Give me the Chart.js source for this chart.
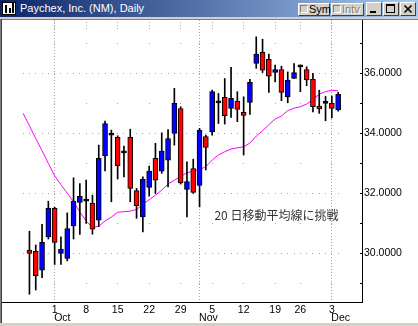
<!DOCTYPE html>
<html>
<head>
<meta charset="utf-8">
<script src="https://cdn.jsdelivr.net/npm/chart.js@4.4.0/dist/chart.umd.min.js"></script>
<style>
  html, body { margin: 0; padding: 0; background: #fff; overflow: hidden; }
  #win { position: relative; width: 418px; height: 326px; background: #fff; font-family: "Liberation Sans", Arial, sans-serif; }
  #bar { position: absolute; left: 0; top: 0; width: 418px; height: 17px; background: linear-gradient(to right, #0a246a, #a6caf0); }
  #barEdge { position: absolute; left: 0; top: 17px; width: 418px; height: 2px; background: #d4d0c8; }
  #clientEdge { position: absolute; left: 0; top: 19px; width: 418px; height: 1px; background: #808080; }
  #leftEdge { position: absolute; left: 0; top: 19px; width: 1px; height: 304px; background: #808080; border-right: 1px solid #404040; }
  #bottomEdge { position: absolute; left: 0; top: 323px; width: 418px; height: 3px; background: #d4d0c8; }
  #icon { position: absolute; left: 2px; top: 2px; width: 14px; height: 13px; background: #fff; border: 1px solid #000; box-sizing: border-box; }
  #icon i { position: absolute; bottom: 1px; width: 2px; background: #000; }
  #title { position: absolute; left: 20px; top: 1px; color: #fff; font-size: 11px; line-height: 15px; white-space: nowrap; }
  .btn { position: absolute; background: #d4d0c8; box-sizing: border-box; border: 1px solid; border-color: #fff #404040 #404040 #fff; font-size: 11px; line-height: 11px; color: #000; white-space: nowrap; }
  .btn .chk { display: inline-block; width: 8px; height: 8px; box-sizing: border-box; border: 1px solid; border-color: #808080 #fff #fff #808080; background: #d4d0c8; margin: 1px 1px 0 1px; vertical-align: top; }
  .btn.off span { color: #808080; text-shadow: 1px 1px 0 #fff; }
  #wrap { position: absolute; left: 0; top: 20px; width: 418px; height: 303px; }
  #wrap canvas { display: block; }
</style>
</head>
<body>
<div id="win">
  <div id="bar"></div>
  <div id="icon"><i style="left:2px;height:8px"></i><i style="left:6px;height:5px"></i><i style="left:9px;height:10px"></i></div>
  <div id="title">Paychex, Inc. (NM), Daily</div>
  <div class="btn" style="left:298px;top:3px;width:32px;height:13px"><b class="chk"></b><span>Sym</span></div>
  <div class="btn off" style="left:331px;top:3px;width:33px;height:13px"><b class="chk"></b><span>Intv</span></div>
  <div class="btn" style="left:366px;top:2px;width:16px;height:14px"><div style="position:absolute;left:3px;top:8px;width:6px;height:2px;background:#000"></div></div>
  <div class="btn" style="left:383px;top:2px;width:16px;height:14px"><div style="position:absolute;left:2px;top:1px;width:9px;height:9px;box-sizing:border-box;border:1px solid #000;border-top-width:2px"></div></div>
  <div class="btn" style="left:400px;top:2px;width:16px;height:14px"><svg width="14" height="12" style="position:absolute;left:0;top:0"><path d="M3.5 2.5 L10.5 9.5 M10.5 2.5 L3.5 9.5" stroke="#000" stroke-width="1.6"/></svg></div>
  <div id="barEdge"></div>
  <div id="clientEdge"></div>
  <div id="wrap"><canvas id="chart" width="418" height="303"></canvas></div>
  <div id="leftEdge"></div>
  <div id="bottomEdge"></div>
</div>
<script>
// trading days shown, Sep 24 - Dec 4 2001 (Thanksgiving closed)
const dates = [
  "2001-09-24", "2001-09-25", "2001-09-26", "2001-09-27", "2001-09-28",
  "2001-10-01", "2001-10-02", "2001-10-03", "2001-10-04", "2001-10-05",
  "2001-10-08", "2001-10-09", "2001-10-10", "2001-10-11", "2001-10-12",
  "2001-10-15", "2001-10-16", "2001-10-17", "2001-10-18", "2001-10-19",
  "2001-10-22", "2001-10-23", "2001-10-24", "2001-10-25", "2001-10-26",
  "2001-10-29", "2001-10-30", "2001-10-31", "2001-11-01", "2001-11-02",
  "2001-11-05", "2001-11-06", "2001-11-07", "2001-11-08", "2001-11-09",
  "2001-11-12", "2001-11-13", "2001-11-14", "2001-11-15", "2001-11-16",
  "2001-11-19", "2001-11-20", "2001-11-21", "2001-11-23",
  "2001-11-26", "2001-11-27", "2001-11-28", "2001-11-29", "2001-11-30",
  "2001-12-03", "2001-12-04"
];

const opens = [
  null, 30.11, 30.07, 29.44, 30.55,
  31.50, 30.00, 29.83, 30.92, 31.70,
  31.74, 31.67, 31.11, 33.25, 33.94,
  33.87, 33.35, 33.87, 32.09, 31.22,
  32.20, 33.17, 32.74, 33.11, 34.00,
  34.83, 32.13, 32.83, 32.27, 33.89,
  34.05, 35.02, 35.20, 34.83, 35.08,
  34.70, 35.03, 36.33, 36.70, 36.47,
  36.03, 36.13, 35.22, 35.83,
  36.22, 36.13, 35.80, 34.91, 35.00,
  35.00, 34.78
];
const highs = [
  null, 30.74, 30.28, 30.97, 31.74,
  31.54, 30.55, 31.35, 32.52, 32.33,
  32.44, 31.94, 33.61, 34.41, 34.11,
  33.92, 33.58, 34.14, 32.17, 32.55,
  32.91, 33.67, 34.02, 34.13, 35.50,
  34.89, 33.05, 33.14, 34.17, 33.94,
  35.44, 35.33, 35.83, 36.20, 35.39,
  35.22, 35.80, 37.22, 37.14, 36.64,
  36.28, 36.24, 36.05, 36.33,
  36.28, 36.22, 36.00, 35.44, 35.24,
  35.24, 35.37
];
const lows = [
  null, 28.64, 28.78, 29.19, 30.48,
  29.63, 29.63, 29.75, 30.48, 30.63,
  31.00, 30.64, 30.89, 32.75, 31.72,
  32.48, 32.55, 31.72, 31.17, 30.72,
  31.91, 32.00, 32.67, 32.22, 33.61,
  32.31, 31.22, 32.00, 31.55, 32.78,
  33.94, 34.33, 34.31, 34.53, 34.39,
  33.28, 34.63, 36.17, 36.03, 35.37,
  35.72, 35.09, 35.02, 35.83,
  35.39, 35.59, 34.72, 34.67, 34.42,
  34.52, 34.74
];
const closes = [
  null, 30.00, 29.25, 30.37, 31.50,
  30.37, 30.14, 30.83, 31.74, 31.90,
  31.74, 30.81, 33.17, 34.33, 33.94,
  32.92, 33.35, 32.17, 31.59, 32.47,
  32.74, 32.44, 33.41, 33.83, 35.00,
  32.35, 32.39, 32.03, 34.11, 33.53,
  35.39, 35.02, 34.59, 35.17, 34.80,
  34.60, 35.70, 36.64, 36.11, 35.91,
  36.13, 35.37, 35.78, 36.03,
  36.22, 35.78, 34.89, 34.82, 35.00,
  34.83, 35.30
];
// 20-day moving average (magenta)
const ma20 = [
  34.67, 34.25, 33.83, 33.42, 33.00,
  32.58, 32.29, 32.01, 31.72, 31.38,
  31.08, 30.86, 30.91, 31.08, 31.21,
  31.37, 31.39, 31.41, 31.46, 31.64,
  31.79, 31.94, 32.11, 32.31, 32.44,
  32.56, 32.69, 32.74, 32.79, 32.89,
  33.11, 33.28, 33.39, 33.48, 33.52,
  33.55, 33.68, 33.91, 34.09, 34.29,
  34.48, 34.58, 34.76, 34.84,
  34.89, 34.98, 35.13, 35.31, 35.39,
  35.44, 35.42
];

const priceTicks = [29, 30, 31, 32, 33, 34, 35, 36, 37];
const monthNames = ["Jan", "Feb", "Mar", "Apr", "May", "Jun", "Jul", "Aug", "Sep", "Oct", "Nov", "Dec"];
const noteText = "20 日移動平均線に挑戦";

const upColor = "#0000ff";
const downColor = "#ff0000";
const dotColor = "#a8a8a8";
const font = "'Liberation Sans', Arial, sans-serif";

// monday ticks (where there is a bar) and first trading day of each month
const parsed = dates.map(d => new Date(d + "T12:00:00"));
const mondays = [];
const monthStarts = [];
parsed.forEach((d, i) => {
  if (d.getDay() === 1 && opens[i] != null) mondays.push(i);
  if (i > 0 && d.getMonth() !== parsed[i - 1].getMonth()) monthStarts.push(i);
});

const bodyData = [];
const wickData = [];
const bodyColors = [];
dates.forEach((d, i) => {
  if (opens[i] == null) return;
  bodyData.push({ x: i, y: [opens[i], closes[i]] });
  wickData.push({ x: i, y: [lows[i], highs[i]] });
  bodyColors.push(closes[i] > opens[i] ? upColor : closes[i] < opens[i] ? downColor : "#000");
});
const maData = ma20.map((v, i) => ({ x: i, y: v }));

const gridDots = {
  id: "gridDots",
  beforeDatasetsDraw(chart) {
    const { ctx, chartArea: a, scales: { x, y } } = chart;
    const dot = (px, py) => ctx.fillRect(Math.floor(px), Math.floor(py), 1, 1);
    ctx.save();
    ctx.fillStyle = dotColor;
    priceTicks.forEach(v => {
      const py = y.getPixelForValue(v);
      const cols = v % 2 === 0 ? dates.map((d, i) => i) : mondays.concat(monthStarts);
      cols.forEach(i => dot(x.getPixelForValue(i), py));
    });
    monthStarts.forEach(i => {
      const px = x.getPixelForValue(i);
      for (let py = a.top; py < a.bottom; py += 3) dot(px, py);
    });
    mondays.forEach(i => {
      const px = x.getPixelForValue(i);
      for (let k = 0; k < 3; k++) dot(px, a.top + 2 + k * 3);
    });
    // little marks on the price axis
    ctx.fillStyle = "#000";
    priceTicks.forEach(v => ctx.fillRect(a.right - 2, Math.floor(y.getPixelForValue(v)), 2, 1));
    ctx.restore();
  },
  afterDraw(chart) {
    const { ctx, chartArea: a, scales: { x, y } } = chart;
    ctx.save();
    ctx.fillStyle = "#000";
    ctx.font = "10.5px " + font;
    ctx.textAlign = "left";
    ctx.textBaseline = "middle";
    monthStarts.forEach(i => {
      ctx.fillText(monthNames[parsed[i].getMonth()], x.getPixelForValue(i) - 0.5, a.bottom + 16);
    });
    ctx.fillStyle = "#333";
    ctx.font = "12px 'Noto Sans CJK JP', sans-serif";
    ctx.fillText(noteText, x.getPixelForValue(30.36), y.getPixelForValue(31.28));
    ctx.restore();
  }
};

new Chart(document.getElementById("chart"), {
  type: "bar",
  data: {
    datasets: [
      {
        label: "body",
        data: bodyData,
        backgroundColor: bodyColors,
        borderColor: "#000",
        borderWidth: 1,
        borderSkipped: false,
        barThickness: 5,
        minBarLength: 2,
        grouped: false,
        order: 0
      },
      {
        label: "wick",
        data: wickData,
        backgroundColor: "#000",
        borderWidth: 0,
        barThickness: 1,
        grouped: false,
        order: 1
      },
      {
        type: "line",
        label: "20 MA",
        data: maData,
        borderColor: "#ff00ff",
        borderWidth: 1,
        pointRadius: 0,
        tension: 0,
        fill: false,
        order: 2
      }
    ]
  },
  options: {
    responsive: false,
    devicePixelRatio: 1,
    animation: false,
    layout: { padding: { left: 2, top: 0, right: 0, bottom: 0 }, autoPadding: false },
    plugins: { legend: { display: false }, tooltip: { enabled: false } },
    scales: {
      x: {
        type: "linear",
        min: -0.5,
        max: 50.93,
        afterBuildTicks: s => { s.ticks = mondays.map(v => ({ value: v })); },
        afterFit: s => { s.height = 21; s.paddingLeft = 0; s.paddingRight = 0; },
        ticks: {
          autoSkip: false,
          maxRotation: 0,
          padding: 2,
          color: "#000",
          font: { family: font, size: 10.5 },
          callback: v => String(parsed[v].getDate())
        },
        grid: { display: false, drawTicks: false },
        border: { display: true, color: "#000", width: 1 }
      },
      y: {
        position: "right",
        min: 28.38,
        max: 37.78,
        afterBuildTicks: s => { s.ticks = priceTicks.map(v => ({ value: v })); },
        afterFit: s => { s.width = 56; s.paddingTop = 0; s.paddingBottom = 0; },
        ticks: {
          padding: 2,
          color: "#000",
          font: { family: font, size: 10.5 },
          callback: v => v % 2 === 0 ? v.toFixed(4) : ""
        },
        grid: { display: false, drawTicks: false },
        border: { display: true, color: "#000", width: 1 }
      }
    }
  },
  plugins: [gridDots]
});
</script>
</body>
</html>
